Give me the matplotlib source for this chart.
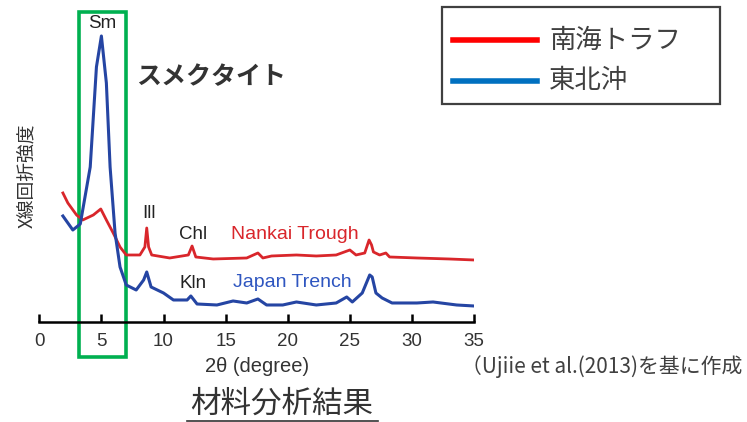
import matplotlib
matplotlib.use('Agg')
import matplotlib.pyplot as plt
from matplotlib.patches import Rectangle
from matplotlib.lines import Line2D

plt.rcParams['font.family'] = ['Liberation Sans', 'Noto Sans CJK JP', 'DejaVu Sans']
JP = ['Noto Sans CJK JP', 'DejaVu Sans']

# --- data (intensity in arbitrary units) ---
nankai_x = [1.9, 2.3, 3.0, 3.5, 4.35, 4.95, 5.4, 5.95, 6.5, 7.0, 8.1, 8.5, 8.65, 8.8,
            9.05, 10.5, 12.0, 12.3, 12.6, 14.0, 16.7, 17.6, 18.0, 18.7, 20.7, 22.3,
            23.9, 25.0, 25.5, 26.2, 26.55, 26.75, 26.9, 27.4, 27.9, 28.2, 30.4, 33.0, 35.0]
nankai_y = [129, 119, 107, 102, 107, 113, 102, 89, 75, 67, 67, 75, 94, 75,
            67, 64, 67, 76, 65, 63, 64, 69, 64, 66, 67, 66,
            67, 72, 67, 69, 82, 77, 70, 67, 69, 65, 64, 63, 62]

japan_x = [1.9, 2.7, 3.3, 4.1, 4.6, 5.0, 5.4, 5.7, 6.1, 6.5, 7.0, 7.8, 8.4, 8.65,
           9.0, 10.0, 10.8, 11.9, 12.2, 12.7, 14.3, 15.6, 16.7, 17.6, 18.3, 19.6,
           20.7, 22.3, 23.9, 24.75, 25.2, 26.0, 26.6, 26.8, 27.1, 27.6, 28.4, 30.4,
           31.7, 33.6, 35.0]
japan_y = [106, 92, 98, 155, 255, 286, 239, 155, 89, 55, 37, 32, 42, 50,
           35, 29, 22, 22, 26, 18, 17, 21, 19, 23, 17, 17,
           20, 17, 19, 25, 20, 29, 47, 45, 29, 24, 19, 19,
           20, 17, 16]

xticks = [0, 5, 10, 15, 20, 25, 30, 35]

peaks = [('Sm', 5.1, 298), ('Ill', 8.8, 108), ('Chl', 12.4, 87), ('Kln', 12.4, 38)]

fig = plt.figure(figsize=(7.47, 4.22), dpi=100)
ax = fig.add_axes([0.0526, 0.237, 0.582, 0.7346])

ax.plot(nankai_x, nankai_y, color='#d9262b', lw=2.0, solid_joinstyle='round')
ax.plot(japan_x, japan_y, color='#2545a3', lw=2.2, solid_joinstyle='round')

ax.set_xlim(0, 35)
ax.set_ylim(0, 310)
ax.set_xticks(xticks)
ax.set_yticks([])
for s in ['top', 'right', 'left']:
    ax.spines[s].set_visible(False)
ax.spines['bottom'].set_linewidth(1.8)
ax.tick_params(axis='x', direction='in', length=6, width=1.8, labelsize=13.5,
               labelcolor='#333333', pad=8)
ax.set_xlabel('2θ (degree)', fontsize=14.5, color='#333333', labelpad=5)
ax.patch.set_alpha(0)

for name, x, y in peaks:
    ax.text(x, y, name, fontsize=13.5, color='#222222', ha='center', va='center')
ax.text(15.4, 87, 'Nankai Trough', fontsize=14, color='#d9262b', va='center')
ax.text(15.6, 39, 'Japan Trench', fontsize=14, color='#2f56c0', va='center')

# green highlight box around the smectite peak
ax.add_patch(Rectangle((3.19, -35), 3.83, 345, fill=False, ec='#00b050', lw=2.6,
                       clip_on=False))
ax.text(7.8, 245, 'スメクタイト', family=JP, fontsize=18, fontweight='bold',
        color='#333333', va='center')

fig.text(27 / 747, 1 - 176 / 422, 'X線回折強度', family=JP, fontsize=13.5,
         rotation=90, ha='center', va='center', color='#333333')

# legend
fig.patches.append(Rectangle((442 / 747, 1 - 104 / 422), 278 / 747, 97 / 422,
                             transform=fig.transFigure, fill=False,
                             ec='#404040', lw=1.6))
fig.lines.append(Line2D([453 / 747, 537 / 747], [1 - 40 / 422] * 2,
                        transform=fig.transFigure, color='#ff0000', lw=4))
fig.lines.append(Line2D([453 / 747, 537 / 747], [1 - 81 / 422] * 2,
                        transform=fig.transFigure, color='#0070c0', lw=4))
fig.text(549 / 747, 1 - 40 / 422, '南海トラフ', family=JP, fontsize=19,
         color='#404040', va='center')
fig.text(549 / 747, 1 - 80 / 422, '東北沖', family=JP, fontsize=19,
         color='#404040', va='center')

fig.text(461 / 747, 1 - 367 / 422, '（Ujiie et al.(2013)を基に作成', family=JP,
         fontsize=15, color='#404040', va='center')
fig.text(282 / 747, 1 - 404 / 422, '材料分析結果', family=JP, fontsize=22,
         color='#333333', ha='center', va='center')
fig.lines.append(Line2D([187 / 747, 378 / 747], [1 - 420.5 / 422] * 2,
                        transform=fig.transFigure, color='#333333', lw=1.2))

fig.savefig('out.png', dpi=100)
